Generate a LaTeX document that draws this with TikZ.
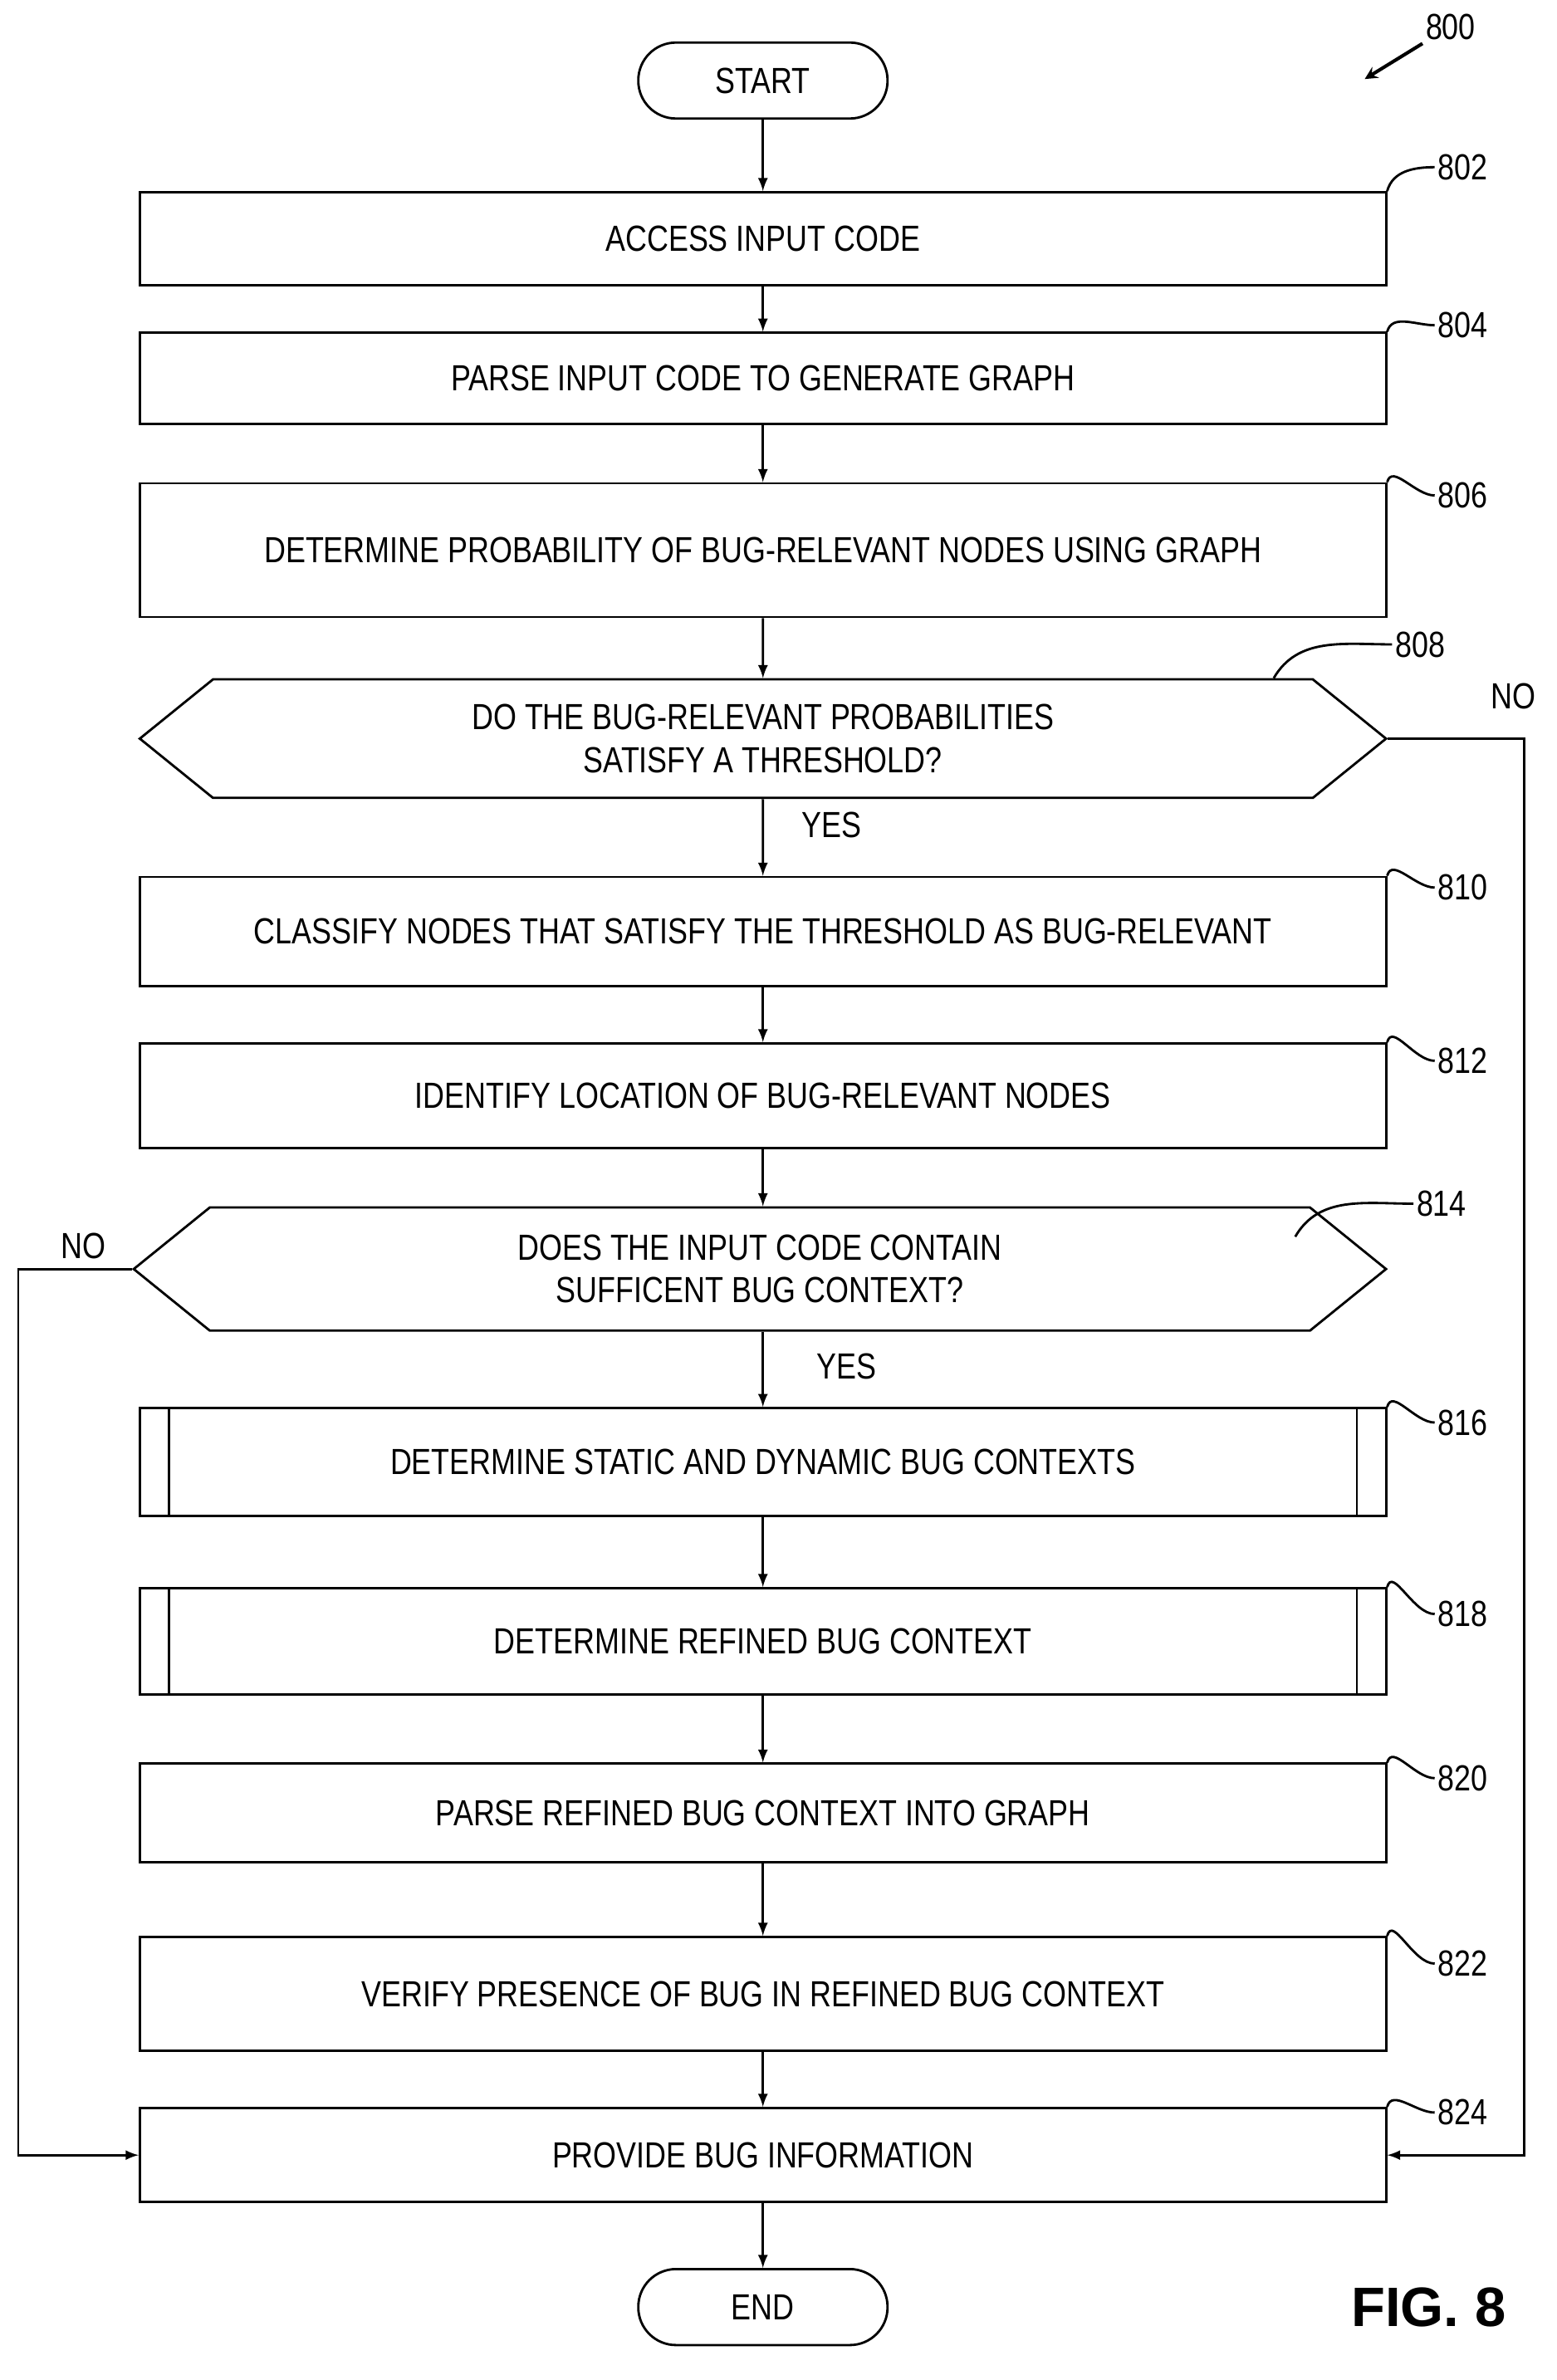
\documentclass[tikz,border=0pt]{standalone}
\usepackage{fontspec}
\setmainfont{Liberation Sans}[FakeStretch=0.82]
\newfontfamily\figfont{Liberation Sans}
\usetikzlibrary{arrows,shapes.symbols}
\begin{document}
\begin{tikzpicture}[line width=1.1pt,
  font={\fontsize{17pt}{20pt}\selectfont},
  box/.style={draw,rectangle,minimum width=20.5cm,align=center},
  term/.style={draw,rounded corners=0.62cm,minimum width=4.1cm,minimum height=1.25cm},
  dec/.style={draw,signal,signal to=west and east,signal pointer angle=78,minimum width=20.5cm,minimum height=1.95cm,align=center,inner sep=0pt},
  refn/.style={anchor=west,inner sep=1pt},
  flow/.style={-latex}]
    \useasboundingbox (0,0) rectangle (25.6,-39.15);
    \node[term] (start) at (12.55,-1.325) {START};
    \node[box,minimum height=1.525cm] (b802) at (12.55,-3.925) {ACCESS INPUT CODE};
    \node[box,minimum height=1.5cm] (b804) at (12.55,-6.225) {PARSE INPUT CODE TO GENERATE GRAPH};
    \node[box,minimum height=2.2cm] (b806) at (12.55,-9.05) {DETERMINE PROBABILITY OF BUG-RELEVANT NODES USING GRAPH};
    \node[dec] (d808) at (12.55,-12.15) {DO THE BUG-RELEVANT PROBABILITIES\\SATISFY A THRESHOLD?};
    \node[box,minimum height=1.8cm] (b810) at (12.55,-15.325) {CLASSIFY NODES THAT SATISFY THE THRESHOLD AS BUG-RELEVANT};
    \node[box,minimum height=1.725cm] (b812) at (12.55,-18.025) {IDENTIFY LOCATION OF BUG-RELEVANT NODES};
    \node[dec,minimum width=20.6cm,minimum height=2.025cm] (d814) at (12.5,-20.875) {DOES THE INPUT CODE CONTAIN\\SUFFICENT BUG CONTEXT?};
    \node[box,minimum height=1.775cm] (b816) at (12.55,-24.05) {DETERMINE STATIC AND DYNAMIC BUG CONTEXTS};
    \node[box,minimum height=1.75cm] (b818) at (12.55,-27.0) {DETERMINE REFINED BUG CONTEXT};
    \node[box,minimum height=1.625cm] (b820) at (12.55,-29.825) {PARSE REFINED BUG CONTEXT INTO GRAPH};
    \node[box,minimum height=1.875cm] (b822) at (12.55,-32.8) {VERIFY PRESENCE OF BUG IN REFINED BUG CONTEXT};
    \node[box,minimum height=1.55cm] (b824) at (12.55,-35.45) {PROVIDE BUG INFORMATION};
    \node[term] (end) at (12.55,-37.95) {END};
    % predefined process bars
    \foreach \n in {b816,b818} {
      \draw ([xshift=0.5cm]\n.north west) -- ([xshift=0.5cm]\n.south west);
      \draw ([xshift=-0.5cm]\n.north east) -- ([xshift=-0.5cm]\n.south east);
    }
    % main flow
    \draw[flow] (start) -- (b802);
    \draw[flow] (b802) -- (b804);
    \draw[flow] (b804) -- (b806);
    \draw[flow] (b806) -- (d808);
    \draw[flow] (d808) -- (b810);
    \draw[flow] (b810) -- (b812);
    \draw[flow] (b812) -- (d814.north -| b812);
    \draw[flow] (d814.south -| b816) -- (b816);
    \draw[flow] (b816) -- (b818);
    \draw[flow] (b818) -- (b820);
    \draw[flow] (b820) -- (b822);
    \draw[flow] (b822) -- (b824);
    \draw[flow] (b824) -- (end);
    \node (yes1) at (13.675,-13.575) {YES};
    \node (yes2) at (13.925,-22.475) {YES};
    % no branches
    \coordinate (nr) at (25.075,-12.15);
    \coordinate (nl) at (0.3,-20.875);
    \draw[flow] (d808.east) -- (nr) |- (b824.east);
    \draw[flow] (d814.west) -- (nl) |- (b824.west);
    \node (no1) at (24.9,-11.45) {NO};
    \node (no2) at (1.375,-20.5) {NO};
    % reference numerals
    \node[refn] (r802) at (23.6,-2.75) {802};
    \node[refn] (r804) at (23.6,-5.35) {804};
    \node[refn] (r806) at (23.6,-8.15) {806};
    \node[refn] (r808) at (22.9,-10.6) {808};
    \node[refn] (r810) at (23.6,-14.6) {810};
    \node[refn] (r812) at (23.6,-17.45) {812};
    \node[refn] (r814) at (23.25,-19.8) {814};
    \node[refn] (r816) at (23.6,-23.4) {816};
    \node[refn] (r818) at (23.6,-26.55) {818};
    \node[refn] (r820) at (23.6,-29.25) {820};
    \node[refn] (r822) at (23.6,-32.3) {822};
    \node[refn] (r824) at (23.6,-34.75) {824};
    \foreach \n in {802,804,806,810,812,816,818,820,822,824}
      \draw (b\n.north east) to[out=75,in=180] (r\n.west);
    \draw ([xshift=-0.65cm]d808.north east) to[out=60,in=180] (r808.west);
    \draw ([xshift=-0.25cm,yshift=-0.5cm]d814.north east) to[out=60,in=180] (r814.west);
    \node[refn] (r800) at (23.4,-0.45) {800};
    \draw[-stealth,line width=1.6pt] (r800.south west) -- (22.45,-1.3);
    \node (fig) at (23.5,-37.95) {\figfont\bfseries\fontsize{26pt}{30pt}\selectfont FIG. 8};
\end{tikzpicture}
\end{document}
